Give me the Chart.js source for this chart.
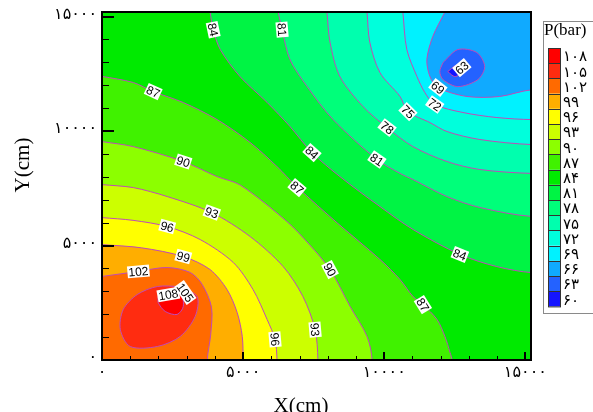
<!DOCTYPE html>
<html>
<head>
<meta charset="utf-8">
<script src="https://cdn.jsdelivr.net/npm/chart.js@4"></script>
<style>
  html, body { margin: 0; padding: 0; background: #fff; }
  canvas { display: block; }
</style>
</head>
<body>
<canvas id="chart" width="593" height="412"></canvas>
<script>
// Domain (cm)
const X_MAX = 15200;
const Y_MAX = 15200;

// Contour levels (bar) and the colour of each band [level, level + 3)
const levels = [60, 63, 66, 69, 72, 75, 78, 81, 84, 87, 90, 93, 96, 99, 102, 105, 108];
const bandColors = ['#1414ff', '#2462ff', '#10aaff', '#00f2ff', '#00ffdc', '#00ffae', '#00ff7a', '#00f444',
                    '#00ea00', '#40f200', '#8cff00', '#ccff00', '#ffff00', '#ffae00', '#ff6a00', '#ff2c10', '#ff0000'];

// Axis ticks (cm)
const majorTicks = [0, 5000, 10000, 15000];
const minorTicks = [1000, 2000, 3000, 4000, 6000, 7000, 8000, 9000, 11000, 12000, 13000, 14000];

// Contour lines, [x, y] in cm
// high side: left edge -> bottom edge
const c87 = [[0, 12390], [1110, 12120], [1815, 11725], [2880, 11245], [4080, 10500], [5250, 9500], [6200, 8450],
             [6910, 7560], [8360, 5960], [9850, 4390], [10560, 3515], [11020, 2770], [11370, 2420], [11870, 1770],
             [12150, 1030], [12330, 330], [12400, 0]];
const c90 = [[0, 9540], [1110, 9320], [2880, 8670], [4080, 8010], [4900, 7640], [6550, 6050], [7350, 5040],
             [8080, 3950], [8790, 2340], [9390, 1030], [9570, 0]];
const c93 = [[0, 7660], [1110, 7530], [2310, 7140], [3890, 6440], [5250, 5390], [6420, 4080], [7120, 2770],
             [7550, 1330], [7650, 0]];
const c96 = [[0, 6220], [1100, 6100], [2310, 5830], [3480, 5260], [4650, 4260], [5350, 3080], [5850, 1770],
             [6130, 900], [6200, 0]];
const c99 = [[0, 5040], [1400, 4900], [2880, 4520], [3830, 3950], [4430, 3080], [4790, 2070], [4970, 1030], [5000, 0]];
const c102 = [[0, 3650], [1290, 3870], [2310, 4040], [3130, 3820], [3550, 3300], [3880, 2300], [3850, 1100], [3730, 0]];
// closed loops round the maximum
const c105 = [[2770, 3210], [3370, 2770], [3300, 1900], [2770, 1030], [1960, 590], [1000, 590], [650, 1330],
              [750, 2200], [1250, 2860], [1960, 3210]];
const c108 = [[1990, 2770], [2770, 2950], [2880, 2340], [2660, 1990], [2240, 2120], [1990, 2510]];
// low side: top edge -> right edge
const c84 = [[3830, 15200], [3940, 14430], [4190, 13560], [4890, 12380], [5850, 11250], [6660, 10200], [7440, 9060],
             [8430, 8010], [9850, 6700], [11020, 5700], [12680, 4610], [13990, 4080], [15230, 3820]];
const c81 = [[6240, 15200], [6380, 14430], [6660, 13120], [7270, 11940], [8190, 10500], [9740, 8760], [10560, 8150],
             [11020, 7880], [12220, 7140], [13390, 6660], [15230, 6270]];
const c78 = [[7970, 15200], [8080, 13870], [8430, 12380], [9250, 11070], [10100, 10150], [11020, 9320], [12220, 8670],
             [13390, 8320], [15230, 8150]];
const c75 = [[9390, 15200], [9490, 13870], [9850, 12550], [10560, 11510], [10840, 10850], [11620, 10370],
             [12220, 9980], [13390, 9630], [15230, 9410]];
const c72 = [[10660, 15200], [10800, 13560], [11160, 12380], [11440, 11680], [11790, 11160], [12790, 10810],
             [13990, 10590], [15230, 10500]];
const c69 = [[12150, 15200], [11720, 14130], [11510, 13120], [11620, 12380], [11900, 11900], [12930, 11510],
             [14090, 11510], [15230, 11800]];
// closed loops round the minimum
const c66 = [[12080, 12990], [12610, 13560], [13280, 13430], [13560, 12820], [13320, 12250], [12610, 11940],
             [12080, 12250], [11970, 12600]];
const c63 = [[12250, 12600], [12610, 12900], [12790, 12600], [12500, 12380]];

// Contour labels: value, anchor x, anchor y (cm), angle (deg)
const contourLabels = [
    [84, 3940, 14430, 78], [81, 6380, 14430, 85], [87, 1815, 11725, 25], [90, 2880, 8670, 18],
    [84, 7440, 9060, 42], [81, 9740, 8760, 35], [78, 10100, 10150, 38], [75, 10840, 10850, 45],
    [72, 11790, 11160, 35], [69, 11900, 11900, 38], [63, 12750, 12770, -40], [87, 6910, 7530, 40],
    [93, 3890, 6440, 20], [96, 2310, 5830, 15], [99, 2880, 4520, 15], [102, 1290, 3870, -5],
    [108, 2350, 2860, -10], [105, 2950, 2950, 55], [90, 8080, 3950, 62], [84, 12680, 4610, 22],
    [93, 7550, 1330, 85], [96, 6130, 900, 85], [87, 11370, 2420, 58]
];

const LINE_COLOR = '#c04ab8';
const FA_DIGITS = '۰۱۲۳۴۵۶۷۸۹';
const toFa = n => String(n).replace(/[0-9]/g, d => FA_DIGITS[+d]);
const colorOf = lv => bandColors[levels.indexOf(lv)];

// Polygon helpers: close a contour round a corner outside the plot
const OUT = 3000;
const closeLowerLeft = line => {
    const first = line[0], last = line[line.length - 1];
    return [...line, [last[0], -OUT], [-OUT, -OUT], [-OUT, first[1]], first];
};
const closeUpperRight = line => {
    const first = line[0], last = line[line.length - 1];
    return [...line, [X_MAX + OUT, last[1]], [X_MAX + OUT, Y_MAX + OUT], [first[0], Y_MAX + OUT], first];
};
const closeLoop = line => [...line, line[0]];

function region(points, color, lineWidth, tension) {
    return {
        data: points.map(([x, y]) => ({ x, y })),
        fill: 'shape',
        backgroundColor: color,
        borderColor: LINE_COLOR,
        borderWidth: lineWidth,
        pointRadius: 0,
        tension: tension
    };
}

// Draw order: background band, then bands nested inwards on both sides
const datasets = [];
datasets.push(region([[-OUT, -OUT], [X_MAX + OUT, -OUT], [X_MAX + OUT, Y_MAX + OUT], [-OUT, Y_MAX + OUT], [-OUT, -OUT]],
    colorOf(84), 0, 0));
[[c87, 87], [c90, 90], [c93, 93], [c96, 96], [c99, 99], [c102, 102]].forEach(([line, lv]) => {
    datasets.push(region(closeLowerLeft(line), colorOf(lv), 1, 0.3));
});
[[c105, 105], [c108, 108]].forEach(([line, lv]) => {
    datasets.push(region(closeLoop(line), colorOf(lv), 1, 0.3));
});
[[c84, 81], [c81, 78], [c78, 75], [c75, 72], [c72, 69], [c69, 66]].forEach(([line, lv]) => {
    datasets.push(region(closeUpperRight(line), colorOf(lv), 1, 0.3));
});
[[c66, 63], [c63, 60]].forEach(([line, lv]) => {
    datasets.push(region(closeLoop(line), colorOf(lv), 1, 0.3));
});
datasets.forEach((ds, i) => { ds.order = datasets.length - i; });

// Labels, frame, ticks, titles and colour legend
const decorPlugin = {
    id: 'decor',
    afterDatasetsDraw(chart) {
        const ctx = chart.ctx;
        const { left, right, top, bottom } = chart.chartArea;
        const xs = chart.scales.x, ys = chart.scales.y;

        // contour labels
        ctx.save();
        ctx.beginPath();
        ctx.rect(left, top, right - left, bottom - top);
        ctx.clip();
        ctx.font = '12px Arial, "Liberation Sans", sans-serif';
        ctx.textAlign = 'center';
        ctx.textBaseline = 'middle';
        contourLabels.forEach(([val, x, y, ang]) => {
            const txt = String(val);
            const w = ctx.measureText(txt).width + 2;
            ctx.save();
            ctx.translate(xs.getPixelForValue(x), ys.getPixelForValue(y));
            ctx.rotate(ang * Math.PI / 180);
            ctx.fillStyle = '#fff';
            ctx.fillRect(-w / 2, -6, w, 12);
            ctx.fillStyle = '#000';
            ctx.fillText(txt, 0, 1);
            ctx.restore();
        });
        ctx.restore();

        // plot frame
        ctx.save();
        ctx.strokeStyle = '#000';
        ctx.lineWidth = 2;
        ctx.strokeRect(left, top, right - left, bottom - top);

        // ticks pointing inwards
        minorTicks.forEach(v => {
            ctx.lineWidth = 1;
            const py = Math.round(ys.getPixelForValue(v)) + 0.5;
            ctx.beginPath(); ctx.moveTo(left, py); ctx.lineTo(left + 7, py); ctx.stroke();
            const px = Math.round(xs.getPixelForValue(v)) + 0.5;
            ctx.beginPath(); ctx.moveTo(px, bottom); ctx.lineTo(px, bottom - 4); ctx.stroke();
        });
        majorTicks.forEach(v => {
            ctx.lineWidth = 2;
            const py = Math.round(ys.getPixelForValue(v));
            ctx.beginPath(); ctx.moveTo(left, py); ctx.lineTo(left + 12, py); ctx.stroke();
            const px = Math.round(xs.getPixelForValue(v));
            ctx.beginPath(); ctx.moveTo(px, bottom); ctx.lineTo(px, bottom - 8); ctx.stroke();
        });

        // tick labels
        ctx.fillStyle = '#000';
        ctx.font = '16px "DejaVu Sans", "Liberation Serif", serif';
        ctx.textBaseline = 'middle';
        ctx.textAlign = 'right';
        majorTicks.forEach(v => {
            ctx.fillText(toFa(v), left - 5, ys.getPixelForValue(v) - 2);
        });
        ctx.textAlign = 'center';
        majorTicks.forEach(v => {
            ctx.fillText(toFa(v), xs.getPixelForValue(v), bottom + 13);
        });

        // axis titles
        ctx.font = '21px "Liberation Serif", "Times New Roman", serif';
        ctx.textBaseline = 'alphabetic';
        ctx.fillText('X(cm)', 301, 412);
        ctx.save();
        ctx.translate(29, 165);
        ctx.rotate(-Math.PI / 2);
        ctx.fillText('Y(cm)', 0, 0);
        ctx.restore();

        // colour legend
        const legX = 543, legY = 21, legW = 52, legH = 292;
        ctx.strokeStyle = '#8a8a8a';
        ctx.lineWidth = 1;
        ctx.strokeRect(legX + 0.5, legY + 0.5, legW, legH);
        ctx.textAlign = 'left';
        ctx.font = '17px "Liberation Serif", "Times New Roman", serif';
        ctx.fillText('P(bar)', legX + 1, legY + 14);

        const sx = 548, sw = 12, sy = 48, sh = 15.2;
        const legendLevels = levels.slice().reverse();
        ctx.font = '15px "DejaVu Sans", serif';
        ctx.textBaseline = 'middle';
        legendLevels.forEach((lv, i) => {
            const y = sy + i * sh;
            ctx.fillStyle = colorOf(lv);
            ctx.fillRect(sx, y, sw, sh);
            ctx.strokeStyle = '#333';
            ctx.lineWidth = 1;
            ctx.beginPath(); ctx.moveTo(sx, Math.round(y) + 0.5); ctx.lineTo(sx + sw, Math.round(y) + 0.5); ctx.stroke();
            ctx.fillStyle = '#000';
            ctx.fillText(toFa(lv), sx + sw + 3, y + sh / 2 + 2);
        });
        ctx.strokeStyle = '#333';
        ctx.strokeRect(sx + 0.5, sy + 0.5, sw, sh * legendLevels.length);
        ctx.restore();
    }
};

new Chart(document.getElementById('chart'), {
    type: 'line',
    data: { datasets },
    options: {
        responsive: false,
        animation: false,
        devicePixelRatio: 1,
        layout: { padding: { left: 102, right: 62, top: 12, bottom: 52 } },
        plugins: { legend: { display: false }, tooltip: { enabled: false } },
        elements: { line: { capBezierPoints: false } },
        scales: {
            x: { type: 'linear', min: 0, max: X_MAX, display: false },
            y: { type: 'linear', min: 0, max: Y_MAX, display: false }
        }
    },
    plugins: [decorPlugin]
});
</script>
</body>
</html>
